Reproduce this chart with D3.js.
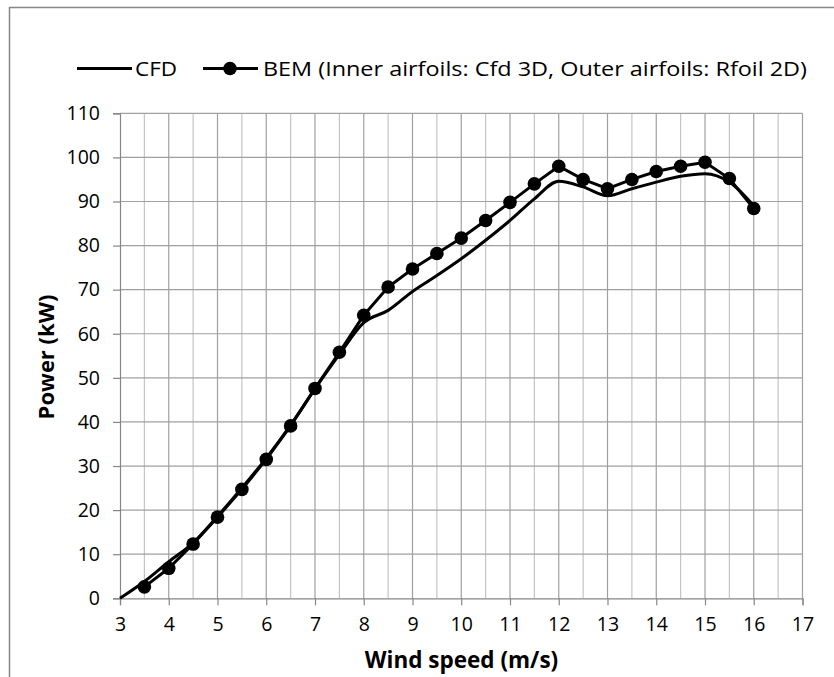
<!DOCTYPE html>
<html>
<head>
<meta charset="utf-8">
<script src="https://cdn.jsdelivr.net/npm/d3@7"></script>
<style>
  body { margin: 0; background: #fff; }
  text { font-family: "Open Sans", "Noto Sans", sans-serif; fill: #000; }
</style>
</head>
<body>
<svg id="chart" width="834" height="677"></svg>
<script>
"use strict";

// Values.
const cfdSpeed = [3, 3.5, 4, 4.5, 5, 5.5, 6, 6.5, 7, 7.5, 8, 8.5, 9, 9.5, 10,
                  10.5, 11, 11.5, 12, 12.5, 13, 13.5, 14, 14.5, 15, 15.5, 16];
const cfdPower = [0, 3.8, 8.3, 12.6, 18.6, 25, 31.8, 39.3, 47.5, 55.3, 62.5, 65.3, 69.6, 73.2, 77,
                  81.2, 85.7, 90.6, 94.6, 93.3, 91.3, 92.9, 94.4, 95.7, 96.3, 94.4, 89];

const bemSpeed = [3.5, 4, 4.5, 5, 5.5, 6, 6.5, 7, 7.5, 8, 8.5, 9, 9.5, 10,
                  10.5, 11, 11.5, 12, 12.5, 13, 13.5, 14, 14.5, 15, 15.5, 16];
const bemPower = [2.6, 6.8, 12.3, 18.4, 24.7, 31.5, 39.1, 47.6, 55.8, 64.2, 70.6, 74.7, 78.2, 81.7,
                  85.7, 89.8, 94, 98, 95, 92.9, 95, 96.8, 98, 98.9, 95.2, 88.4];

const xTickValues = [3, 4, 5, 6, 7, 8, 9, 10, 11, 12, 13, 14, 15, 16, 17];
const xMinorValues = [3.5, 4.5, 5.5, 6.5, 7.5, 8.5, 9.5, 10.5, 11.5, 12.5, 13.5, 14.5, 15.5, 16.5];
const yTickValues = [0, 10, 20, 30, 40, 50, 60, 70, 80, 90, 100, 110];

const legendLabels = ["CFD", "BEM (Inner airfoils: Cfd 3D, Outer airfoils: Rfoil 2D)"];

const svg = d3.select("#chart");

// Outer chart border (only top and left edges are inside the picture)
svg.append("path")
    .attr("d", "M9.5,690V7.5H834")
    .style("fill", "none")
    .style("stroke", "#868686")
    .style("stroke-width", "1.5px");

const x = d3.scaleLinear().domain([3, 17]).range([120, 802.5]);
const y = d3.scaleLinear().domain([0, 110]).range([598.3, 113.3]);

// Minor vertical gridlines (half units)
svg.append("g").selectAll("line").data(xMinorValues).enter().append("line")
    .attr("x1", d => x(d)).attr("x2", d => x(d))
    .attr("y1", y(0)).attr("y2", y(110))
    .style("stroke", "#c4c4c4").style("stroke-width", "1.2px");

// Major vertical gridlines
svg.append("g").selectAll("line").data(xTickValues.slice(1)).enter().append("line")
    .attr("x1", d => x(d)).attr("x2", d => x(d))
    .attr("y1", y(0)).attr("y2", y(110))
    .style("stroke", "#a0a0a0").style("stroke-width", "1.2px");

// Horizontal gridlines
svg.append("g").selectAll("line").data(yTickValues.slice(1)).enter().append("line")
    .attr("x1", x(3)).attr("x2", x(17))
    .attr("y1", d => y(d)).attr("y2", d => y(d))
    .style("stroke", "#a0a0a0").style("stroke-width", "1.2px");

// Axes
const xAxis = svg.append("g")
    .attr("transform", `translate(0,${y(0)})`)
    .call(d3.axisBottom(x).tickValues(xTickValues).tickSize(7).tickPadding(12).tickFormat(d3.format("d")));
const yAxis = svg.append("g")
    .attr("transform", `translate(${x(3)},0)`)
    .call(d3.axisLeft(y).tickValues(yTickValues).tickSize(7).tickPadding(13).tickFormat(d3.format("d")));

[xAxis, yAxis].forEach(a => {
    a.select(".domain").style("stroke", "#868686").style("stroke-width", "1.2px");
    a.selectAll(".tick line").style("stroke", "#868686").style("stroke-width", "1.2px");
    a.selectAll(".tick text").style("font-size", "19.5px").style("fill", "#000")
        .style("font-family", '"Open Sans", sans-serif');
});

// CFD curve
const cfdLine = d3.line()
    .x((d, i) => x(cfdSpeed[i]))
    .y(d => y(d))
    .curve(d3.curveMonotoneX);
svg.append("path")
    .datum(cfdPower)
    .attr("d", cfdLine)
    .style("fill", "none")
    .style("stroke", "#000")
    .style("stroke-width", "3px");

// BEM line with markers
const bemLine = d3.line()
    .x((d, i) => x(bemSpeed[i]))
    .y(d => y(d));
svg.append("path")
    .datum(bemPower)
    .attr("d", bemLine)
    .style("fill", "none")
    .style("stroke", "#000")
    .style("stroke-width", "3px");
svg.append("g").selectAll("circle").data(bemPower).enter().append("circle")
    .attr("cx", (d, i) => x(bemSpeed[i]))
    .attr("cy", d => y(d))
    .attr("r", 6.8)
    .style("fill", "#000");

// Legend
const legY = 68.5;
svg.append("line").attr("x1", 77).attr("x2", 132).attr("y1", legY).attr("y2", legY)
    .style("stroke", "#000").style("stroke-width", "3px");
svg.append("text").attr("x", 135).attr("y", 76)
    .attr("textLength", 42).attr("lengthAdjust", "spacingAndGlyphs")
    .style("font-size", "20.5px").text(legendLabels[0]);
svg.append("line").attr("x1", 203).attr("x2", 258).attr("y1", legY).attr("y2", legY)
    .style("stroke", "#000").style("stroke-width", "3px");
svg.append("circle").attr("cx", 230).attr("cy", legY).attr("r", 6.8).style("fill", "#000");
svg.append("text").attr("x", 263).attr("y", 76)
    .attr("textLength", 544).attr("lengthAdjust", "spacingAndGlyphs")
    .style("font-size", "20.5px").text(legendLabels[1]);

// Axis titles
svg.append("text")
    .attr("transform", "translate(54,357) rotate(-90)")
    .style("text-anchor", "middle")
    .style("font-size", "22px").style("font-weight", "bold")
    .text("Power (kW)");
svg.append("text")
    .attr("x", 461.5).attr("y", 668)
    .style("text-anchor", "middle")
    .style("font-size", "22.5px").style("font-weight", "bold")
    .text("Wind speed (m/s)");
</script>
</body>
</html>
